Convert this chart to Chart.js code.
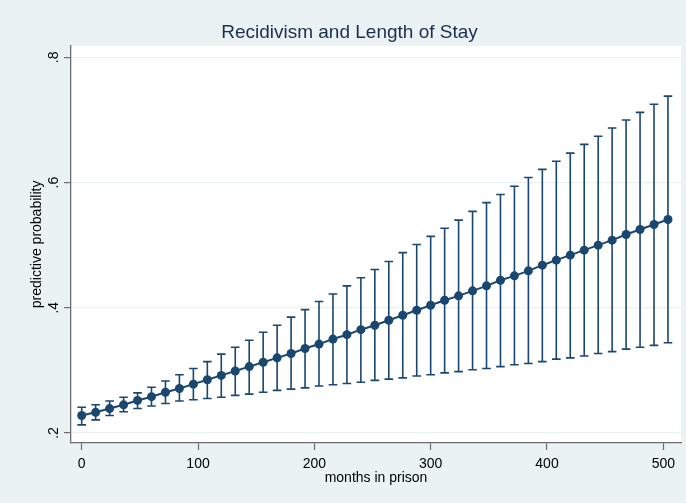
<!DOCTYPE html>
<html><head><meta charset="utf-8">
<script src="https://cdn.jsdelivr.net/npm/chart.js@4.4.1/dist/chart.umd.min.js"></script>
<style>html,body{margin:0;padding:0;background:#EAF2F3;}#wrap{width:686px;height:503px;}canvas{display:block;}</style>
</head><body><div id="wrap"><canvas id="c" width="686" height="503"></canvas></div>
<script>
const months = [0,12,24,36,48,60,72,84,96,108,120,132,144,156,168,180,192,204,216,228,240,252,264,276,288,300,312,324,336,348,360,372,384,396,408,420,432,444,456,468,480,492,504];
const margin = [0.228,0.233,0.239,0.245,0.252,0.258,0.265,0.271,0.278,0.285,0.292,0.299,0.306,0.313,0.320,0.327,0.335,0.342,0.350,0.357,0.365,0.372,0.380,0.388,0.396,0.404,0.412,0.419,0.427,0.435,0.444,0.451,0.459,0.468,0.476,0.484,0.492,0.500,0.508,0.517,0.525,0.533,0.541];
const ciUpper = [0.241,0.245,0.251,0.257,0.264,0.273,0.283,0.293,0.303,0.314,0.326,0.337,0.348,0.361,0.372,0.385,0.397,0.410,0.422,0.435,0.448,0.461,0.474,0.488,0.501,0.514,0.527,0.540,0.554,0.568,0.581,0.594,0.608,0.621,0.634,0.647,0.661,0.674,0.687,0.700,0.712,0.725,0.738];
const ciLower = [0.213,0.221,0.228,0.234,0.239,0.243,0.247,0.251,0.253,0.255,0.257,0.260,0.262,0.265,0.268,0.270,0.272,0.275,0.277,0.279,0.281,0.284,0.286,0.288,0.291,0.293,0.296,0.298,0.301,0.303,0.306,0.309,0.311,0.314,0.318,0.320,0.323,0.327,0.330,0.334,0.337,0.340,0.344];
const xTicks = [0,100,200,300,400,500];
const yTicks = [0.2,0.4,0.6,0.8];
const yTickLabels = ['.2','.4','.6','.8'];

const NAVY = '#1A476F';
const AXIS = '#6E6E6E';
const GRID = '#EAF2F3';
Chart.defaults.font.family = "'Liberation Sans', Arial, sans-serif";
Chart.defaults.color = '#000';

const bgPlugin = {
  id: 'plotBg',
  beforeDraw(chart) {
    const {ctx, chartArea: a} = chart;
    ctx.save();
    ctx.fillStyle = '#ffffff';
    ctx.fillRect(a.left, a.top, a.right - a.left, a.bottom - a.top);
    ctx.restore();
  }
};
const errPlugin = {
  id: 'errBars',
  beforeDatasetsDraw(chart) {
    const {ctx, scales: {x, y}} = chart;
    ctx.save();
    ctx.strokeStyle = NAVY;
    ctx.lineWidth = 1.6;
    const cap = 4.3;
    for (let i = 0; i < months.length; i++) {
      const px = x.getPixelForValue(months[i]);
      const yl = y.getPixelForValue(ciLower[i]);
      const yu = y.getPixelForValue(ciUpper[i]);
      ctx.beginPath();
      ctx.moveTo(px, yl); ctx.lineTo(px, yu);
      ctx.moveTo(px - cap, yl); ctx.lineTo(px + cap, yl);
      ctx.moveTo(px - cap, yu); ctx.lineTo(px + cap, yu);
      ctx.stroke();
    }
    ctx.restore();
  }
};

new Chart(document.getElementById('c'), {
  type: 'line',
  data: {
    datasets: [{
      label: 'predictive probability',
      data: months.map((m, i) => ({x: m, y: margin[i]})),
      borderColor: NAVY,
      backgroundColor: NAVY,
      borderWidth: 2,
      pointRadius: 4.5,
      pointBackgroundColor: NAVY,
      pointBorderColor: NAVY,
      pointBorderWidth: 0,
      tension: 0
    }]
  },
  options: {
    responsive: false,
    animation: false,
    events: [],
    layout: {padding: {left: 18, right: 5, top: 0, bottom: 0}},
    plugins: {
      legend: {display: false},
      tooltip: {enabled: false},
      title: {
        display: true,
        text: 'Recidivism and Length of Stay',
        color: '#1E2D4F',
        font: {size: 19, weight: 'normal'},
        padding: {top: 21, bottom: 2}
      }
    },
    scales: {
      x: {
        type: 'linear',
        min: -9.2,
        max: 515.2,
        afterFit(s) { s.height = 60; },
        afterBuildTicks(s) { s.ticks = xTicks.map(v => ({value: v})); },
        grid: {drawOnChartArea: false, drawTicks: true, tickLength: 7, tickColor: AXIS, tickWidth: 1.2},
        border: {display: true, color: AXIS, width: 1.3},
        ticks: {font: {size: 14}, padding: 6, color: '#000', maxRotation: 0, minRotation: 0, callback: v => String(v)},
        title: {display: true, text: 'months in prison', font: {size: 14}, color: '#000', padding: {top: 0, bottom: 16}}
      },
      y: {
        type: 'linear',
        min: 0.184,
        max: 0.8184,
        afterFit(s) { s.width = 53; },
        afterBuildTicks(s) { s.ticks = yTicks.map(v => ({value: v})); },
        grid: {color: GRID, lineWidth: 1.2, drawTicks: true, tickLength: 7, tickColor: AXIS, tickWidth: 1.2},
        border: {display: true, color: AXIS, width: 1.3},
        ticks: {
          font: {size: 14}, padding: 4, color: '#000', minRotation: 90, maxRotation: 90, crossAlign: 'center',
          callback: (v) => { const k = yTicks.findIndex(t => Math.abs(t - v) < 1e-9); return k >= 0 ? yTickLabels[k] : ''; }
        },
        title: {display: true, text: 'predictive probability', font: {size: 14}, color: '#000', padding: {top: 11, bottom: 0}}
      }
    }
  },
  plugins: [bgPlugin, errPlugin]
});
</script></body></html>
